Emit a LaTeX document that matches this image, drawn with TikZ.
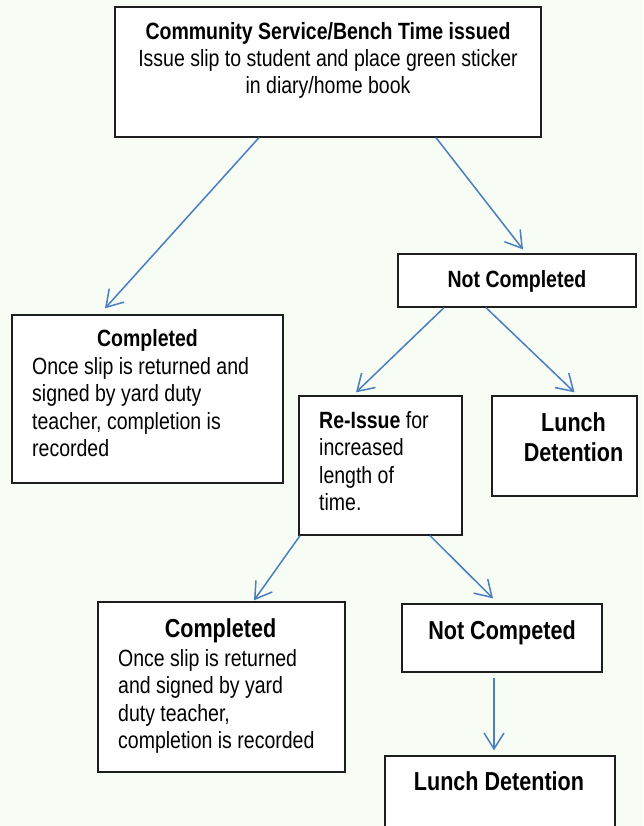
\documentclass[tikz,border=0pt]{standalone}
\usepackage{fontspec}
\setmainfont{Liberation Sans}[FakeStretch=0.83]
\usetikzlibrary{arrows.meta,calc}
\definecolor{bggreen}{HTML}{F7FCF5}
\definecolor{arrblue}{HTML}{4A7EBF}
\definecolor{boxline}{HTML}{1E1E1E}
\tikzset{
  box/.style={draw=boxline, line width=1.3pt, fill=white, inner sep=0pt},
  arr/.style={draw=arrblue, line width=1.5pt, -{Straight Barb[length=16pt,width=20pt,line width=1.5pt]}},
  body/.style={inner sep=0pt, font=\fontsize{23.5}{27.5}\selectfont},
  bodyb/.style={inner sep=0pt, font=\fontsize{23.5}{27.5}\selectfont\bfseries},
  big/.style={inner sep=0pt, font=\fontsize{26}{30}\selectfont\bfseries},
}
\begin{document}
\begin{tikzpicture}[x=1pt,y=-1pt]
\useasboundingbox (0,0) rectangle (643,826);
\fill[bggreen] (0,0) rectangle (643,826);
\clip (0,0) rectangle (643,826);
% boxes
\node[box, minimum width=426pt, minimum height=130pt] (top) at (328,72) {};
\node[box, minimum width=238pt, minimum height=53pt] (nc1) at (517,280.5) {};
\node[box, minimum width=271pt, minimum height=168pt] (c1) at (147.5,399) {};
\node[box, minimum width=163pt, minimum height=139pt] (ri) at (380.5,465.5) {};
\node[box, minimum width=145pt, minimum height=100pt] (ld1) at (564.5,446) {};
\node[box, minimum width=247pt, minimum height=170pt] (c2) at (221.5,687) {};
\node[box, minimum width=200pt, minimum height=68pt] (nc2) at (502,638) {};
\node[box, minimum width=230pt, minimum height=80pt] (ld2) at (500,796) {};
% texts (multi-line nodes: base anchor = last line's baseline)
\node[body, anchor=base, align=center, font=\fontsize{23.5}{27}\selectfont] (ttop) at (328,94)
  {\textbf{Community Service/Bench Time issued}\\Issue slip to student and place green sticker\\in diary/home book};
\node[bodyb, anchor=base] (tnc1) at (517,287) {Not Completed};
\node[bodyb, anchor=base] (tc1h) at (147.5,346.5) {Completed};
\node[body, anchor=base west, align=left] (tc1) at (32,456.5)
  {Once slip is returned and\\signed by yard duty\\teacher, completion is\\recorded};
\node[body, anchor=base west, align=left] (tri) at (319,510.5)
  {\textbf{Re-Issue} for\\increased\\length of\\time.};
\node[big, anchor=base, align=center] (tld1) at (573.5,461) {Lunch\\Detention};
\node[big, anchor=base] (tc2h) at (220.5,637) {Completed};
\node[body, anchor=base west, align=left] (tc2) at (118,748.5)
  {Once slip is returned\\and signed by yard\\duty teacher,\\completion is recorded};
\node[big, anchor=base] (tnc2) at (502,639) {Not Competed};
\node[big, anchor=base] (tld2) at (499,790) {Lunch Detention};
% connectors
\draw[arr] ($(top.south)+(-69,0)$) -- ($(c1.north)+(-42.5,-6)$);
\draw[arr] ($(top.south)+(108,0)$) -- ($(nc1.north)+(6,-4)$);
\draw[arr] ($(nc1.south)+(-73,0)$) -- ($(ri.north)+(-24.5,-3)$);
\draw[arr] ($(nc1.south)+(-31,0)$) -- ($(ld1.north)+(10,-3)$);
\draw[arr] ($(ri.south)+(-80.5,0)$) -- ($(c2.north)+(32.5,-1)$);
\draw[arr] ($(ri.south)+(49.5,0)$) -- ($(nc2.north)+(-9,-5)$);
\draw[arr] ($(nc2.south)+(-8,5)$) -- ($(ld2.north)+(-6,-5)$);
\end{tikzpicture}
\end{document}
